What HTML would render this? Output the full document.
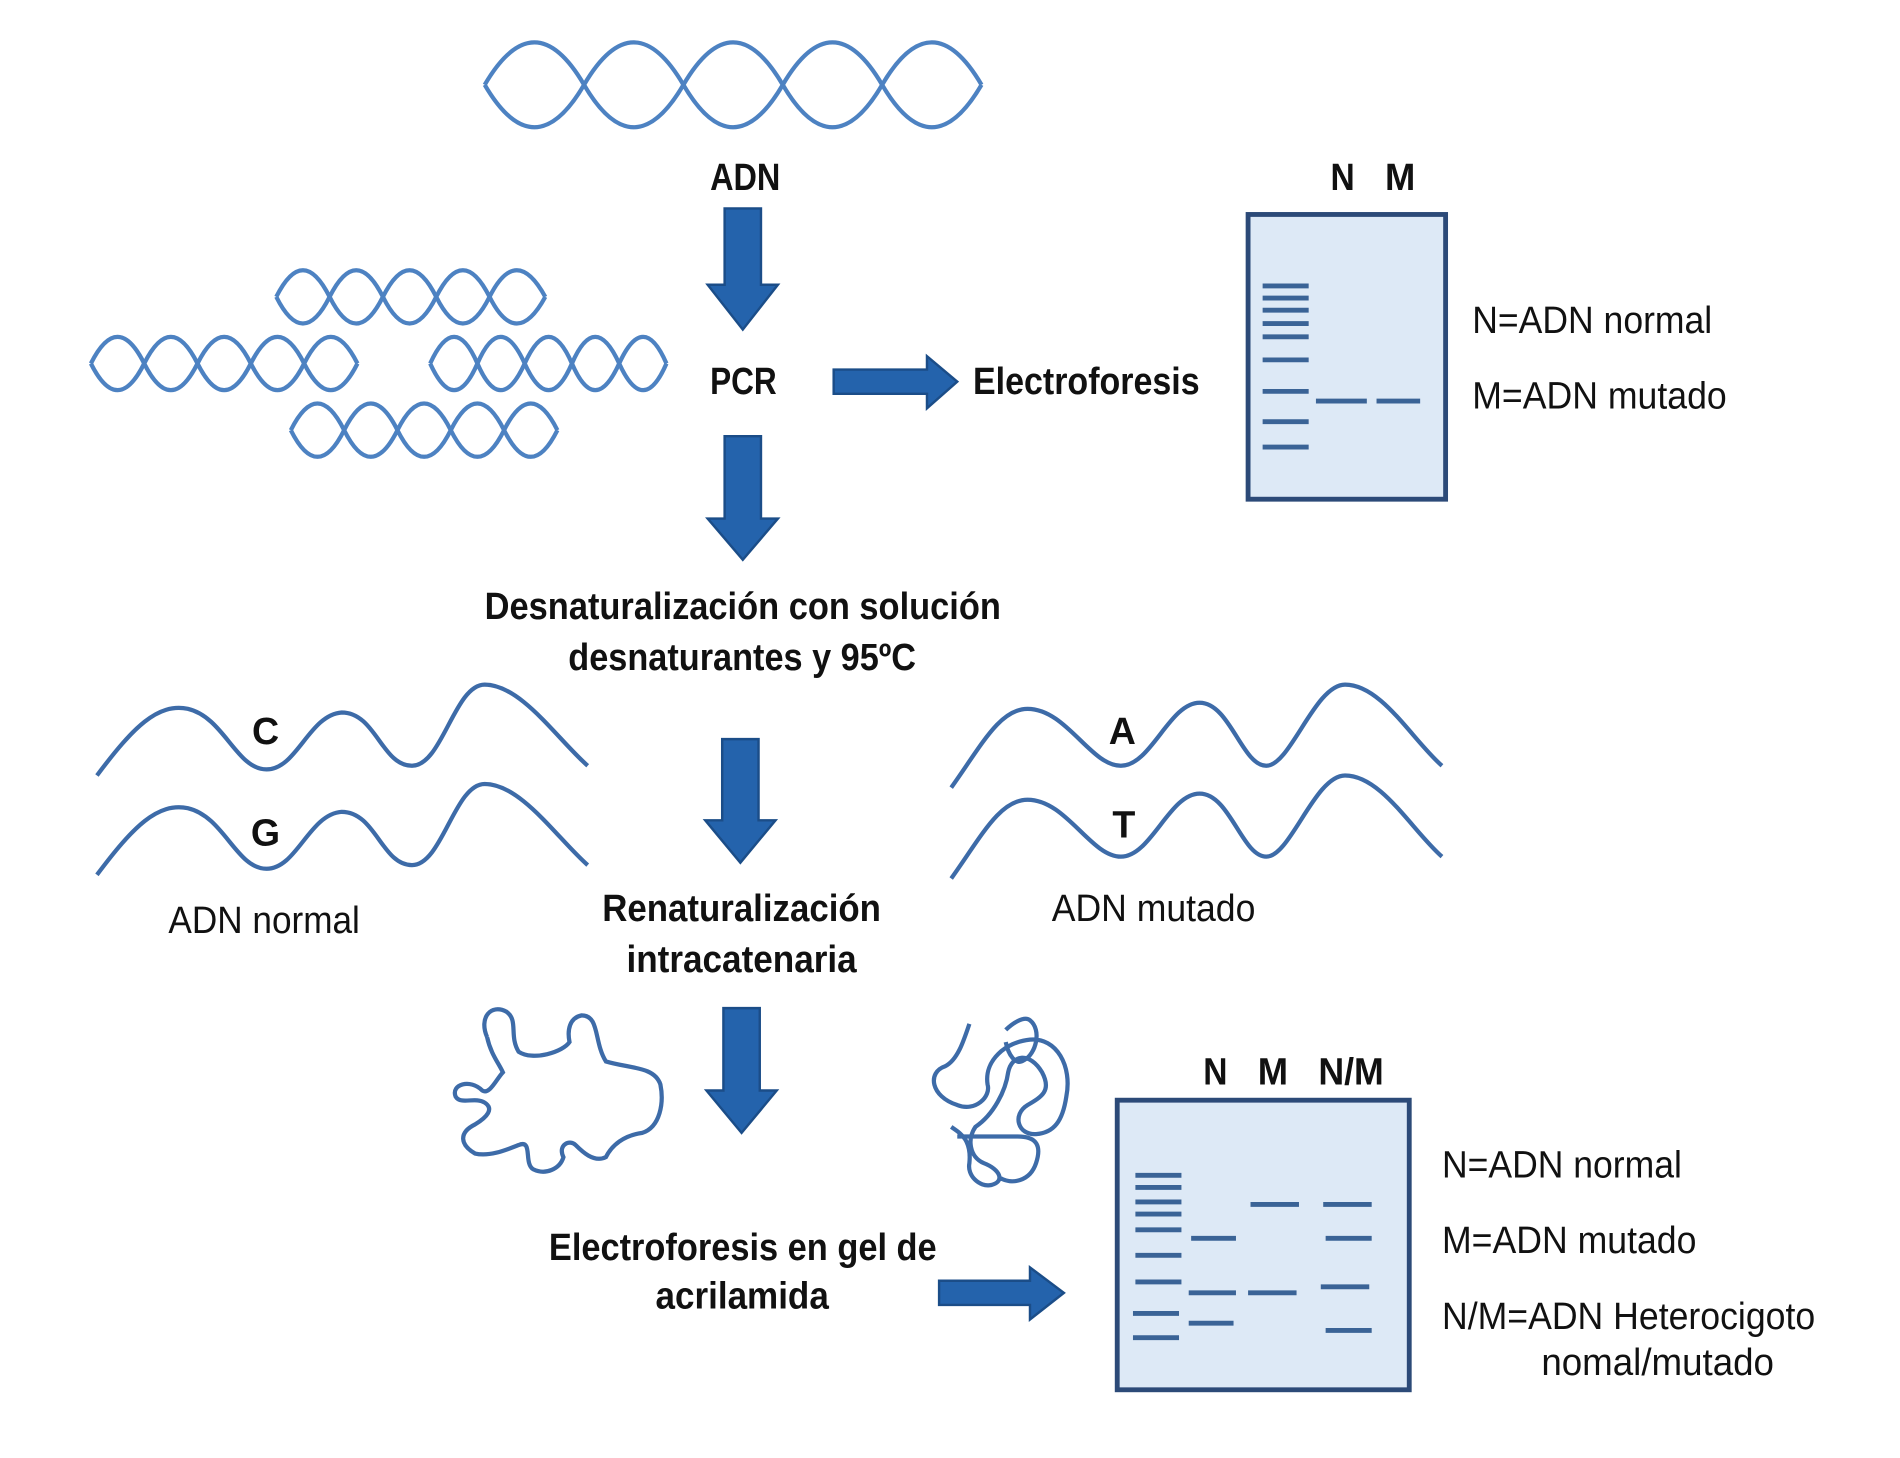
<!DOCTYPE html>
<html><head><meta charset="utf-8"><style>
html,body{margin:0;padding:0;background:#fff;}
svg{display:block;}
.b{font-family:"Liberation Sans Narrow","Liberation Sans",sans-serif;font-weight:bold;font-size:31px;fill:#111;}
.r{font-family:"Liberation Sans Narrow","Liberation Sans",sans-serif;font-size:31px;fill:#111;}
.h{fill:none;stroke:#4d82c2;stroke-width:3.5;}
.w{fill:none;stroke:#3d6ba8;stroke-width:3.5;}
.ar{fill:#2463ac;stroke:#1b4d88;stroke-width:2;}
.gel{fill:#dde9f6;stroke:#2c4a78;stroke-width:4;}
.bd{stroke:#3a6396;stroke-width:4;}
</style></head><body>
<svg width="1900" height="1458" viewBox="0 0 1568 1203.3" preserveAspectRatio="none">
<!-- top helix -->
<path class="h" d="M400 70 Q441 0 482 70 T564 70 T646 70 T728 70 T810 70"/>
<path class="h" d="M400 70 Q441 140 482 70 T564 70 T646 70 T728 70 T810 70"/>
<!-- small helices -->
<path class="h" d="M228 245 Q250 201 272 245 T316 245 T360 245 T404 245 T450 245"/>
<path class="h" d="M228 245 Q250 289 272 245 T316 245 T360 245 T404 245 T450 245"/>
<path class="h" d="M75 300 Q97 256 119 300 T163 300 T207 300 T251 300 T295 300"/>
<path class="h" d="M75 300 Q97 344 119 300 T163 300 T207 300 T251 300 T295 300"/>
<path class="h" d="M355 300 Q375 256 394 300 T433 300 T472 300 T511 300 T550 300"/>
<path class="h" d="M355 300 Q375 344 394 300 T433 300 T472 300 T511 300 T550 300"/>
<path class="h" d="M240 355 Q262 311 284 355 T328 355 T372 355 T416 355 T460 355"/>
<path class="h" d="M240 355 Q262 399 284 355 T328 355 T372 355 T416 355 T460 355"/>
<!-- arrows down -->
<polygon class="ar" points="598,172 628,172 628,235 642,235 613,272 584,235 598,235"/>
<polygon class="ar" points="598,360 628,360 628,428 642,428 613,462 584,428 598,428"/>
<polygon class="ar" points="596,610 626,610 626,677 640,677 611,712 582,677 596,677"/>
<polygon class="ar" points="597,832 627,832 627,900 641,900 612,935 583,900 597,900"/>
<!-- arrows right -->
<polygon class="ar" points="688,305 765,305 765,294 790,315 765,337 765,325 688,325"/>
<polygon class="ar" points="775,1057 850,1057 850,1046 878,1067 850,1089 850,1077 775,1077"/>
<!-- gel 1 -->
<rect class="gel" x="1030" y="177" width="163" height="235"/>
<g class="bd">
<line x1="1042" y1="236" x2="1080" y2="236"/><line x1="1042" y1="246" x2="1080" y2="246"/>
<line x1="1042" y1="256" x2="1080" y2="256"/><line x1="1042" y1="267" x2="1080" y2="267"/>
<line x1="1042" y1="278" x2="1080" y2="278"/><line x1="1042" y1="297" x2="1080" y2="297"/>
<line x1="1042" y1="323" x2="1080" y2="323"/><line x1="1042" y1="348" x2="1080" y2="348"/>
<line x1="1042" y1="369" x2="1080" y2="369"/>
<line x1="1086" y1="331" x2="1128" y2="331"/><line x1="1136" y1="331" x2="1172" y2="331"/>
</g>
<!-- gel 2 -->
<rect class="gel" x="922" y="908" width="241" height="239"/>
<g class="bd">
<line x1="937" y1="970" x2="975" y2="970"/><line x1="937" y1="980" x2="975" y2="980"/>
<line x1="937" y1="992" x2="975" y2="992"/><line x1="937" y1="1002" x2="975" y2="1002"/>
<line x1="937" y1="1015" x2="975" y2="1015"/><line x1="937" y1="1036" x2="975" y2="1036"/>
<line x1="937" y1="1058" x2="975" y2="1058"/><line x1="935" y1="1084" x2="973" y2="1084"/>
<line x1="935" y1="1104" x2="973" y2="1104"/>
<line x1="983" y1="1022" x2="1020" y2="1022"/><line x1="981" y1="1067" x2="1020" y2="1067"/>
<line x1="981" y1="1092" x2="1018" y2="1092"/>
<line x1="1032" y1="994" x2="1072" y2="994"/><line x1="1030" y1="1067" x2="1070" y2="1067"/>
<line x1="1092" y1="994" x2="1132" y2="994"/><line x1="1094" y1="1022" x2="1132" y2="1022"/>
<line x1="1090" y1="1062" x2="1130" y2="1062"/><line x1="1094" y1="1098" x2="1132" y2="1098"/>
</g>
<!-- single strands -->
<path class="w" d="M80 640 C110 600 130 580 155 585 C185 592 195 635 220 635 C245 635 255 590 282 588 C310 588 315 632 340 632 C365 632 375 565 400 565 C430 565 460 610 485 632"/>
<path class="w" d="M80 722 C110 682 130 662 155 667 C185 674 195 717 220 717 C245 717 255 672 282 670 C310 670 315 714 340 714 C365 714 375 647 400 647 C430 647 460 692 485 714"/>
<path class="w" d="M785 650 C810 615 825 585 848 585 C880 585 900 632 925 632 C950 632 965 580 990 580 C1015 580 1025 632 1045 632 C1065 632 1085 565 1110 565 C1140 565 1165 610 1190 632"/>
<path class="w" d="M785 725 C810 690 825 660 848 660 C880 660 900 707 925 707 C950 707 965 655 990 655 C1015 655 1025 707 1045 707 C1065 707 1085 640 1110 640 C1140 640 1165 685 1190 707"/>
<!-- blobs -->
<path class="w" d="M402 856 C395 840 405 828 418 835 C428 842 420 855 428 868 C440 876 465 868 470 860 C468 850 470 840 480 838 C495 838 490 860 500 876 C520 882 540 880 545 895 C548 910 545 930 530 935 C515 937 505 945 500 955 C490 960 480 950 475 945 C470 940 460 945 465 955 C462 965 450 970 440 965 C432 960 440 940 428 945 C420 948 405 955 392 952 C380 945 378 935 392 928 C402 922 408 915 400 910 C392 905 380 912 376 905 C372 895 388 890 398 900 C404 904 410 890 415 885 C412 878 405 870 402 856"/>
<path class="w" d="M800 845 C795 860 790 875 780 880 C765 885 768 905 790 912 C805 918 818 905 815 895 C812 875 830 860 850 858 C872 856 885 880 880 905 C877 925 870 935 855 936 C840 937 835 920 848 912 C860 905 868 900 860 885 C850 868 835 870 832 885 C830 900 820 920 805 930 C798 940 800 955 812 960 C825 965 830 975 818 978 C808 980 798 970 800 960 C802 940 792 935 785 930 M790 938 L840 938 C855 938 860 945 855 960 C850 975 835 978 825 972 M830 850 C835 845 845 838 850 842 C860 850 855 870 845 875 C838 880 832 870 830 860"/>
<!-- text -->
<text class="b" x="615" y="157" text-anchor="middle" textLength="58" lengthAdjust="spacingAndGlyphs">ADN</text>
<text class="b" x="586" y="325" textLength="55" lengthAdjust="spacingAndGlyphs">PCR</text>
<text class="b" x="803" y="325" textLength="187" lengthAdjust="spacingAndGlyphs">Electroforesis</text>
<text class="b" x="1098" y="157" textLength="20" lengthAdjust="spacingAndGlyphs">N</text>
<text class="b" x="1143" y="157" textLength="25" lengthAdjust="spacingAndGlyphs">M</text>
<text class="r" x="1215" y="275" textLength="198" lengthAdjust="spacingAndGlyphs">N=ADN normal</text>
<text class="r" x="1215" y="337" textLength="210" lengthAdjust="spacingAndGlyphs">M=ADN mutado</text>
<text class="b" x="400" y="511" textLength="426" lengthAdjust="spacingAndGlyphs">Desnaturalización con solución</text>
<text class="b" x="469" y="553" textLength="287" lengthAdjust="spacingAndGlyphs">desnaturantes y 95ºC</text>
<text class="b" x="208" y="614">C</text>
<text class="b" x="207" y="698">G</text>
<text class="b" x="915" y="614">A</text>
<text class="b" x="918" y="691">T</text>
<text class="r" x="139" y="770" textLength="158" lengthAdjust="spacingAndGlyphs">ADN normal</text>
<text class="b" x="497" y="760" textLength="230" lengthAdjust="spacingAndGlyphs">Renaturalización</text>
<text class="b" x="517" y="802" textLength="190" lengthAdjust="spacingAndGlyphs">intracatenaria</text>
<text class="r" x="868" y="760" textLength="168" lengthAdjust="spacingAndGlyphs">ADN mutado</text>
<text class="b" x="453" y="1040" textLength="320" lengthAdjust="spacingAndGlyphs">Electroforesis en gel de</text>
<text class="b" x="541" y="1080" textLength="143" lengthAdjust="spacingAndGlyphs">acrilamida</text>
<text class="b" x="993" y="895" textLength="20" lengthAdjust="spacingAndGlyphs">N</text>
<text class="b" x="1038" y="895" textLength="25" lengthAdjust="spacingAndGlyphs">M</text>
<text class="b" x="1088" y="895" textLength="54" lengthAdjust="spacingAndGlyphs">N/M</text>
<text class="r" x="1190" y="972" textLength="198" lengthAdjust="spacingAndGlyphs">N=ADN normal</text>
<text class="r" x="1190" y="1034" textLength="210" lengthAdjust="spacingAndGlyphs">M=ADN mutado</text>
<text class="r" x="1190" y="1097" textLength="308" lengthAdjust="spacingAndGlyphs">N/M=ADN Heterocigoto</text>
<text class="r" x="1272" y="1135" textLength="192" lengthAdjust="spacingAndGlyphs">nomal/mutado</text>
</svg>
</body></html>
